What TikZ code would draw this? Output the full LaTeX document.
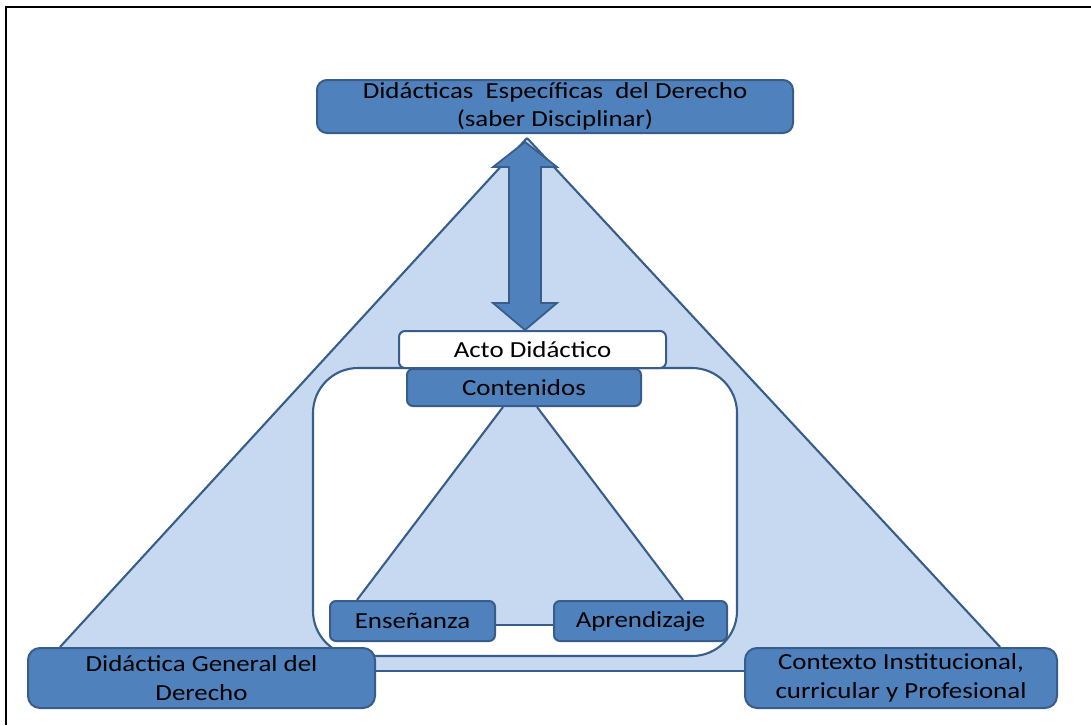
\documentclass[tikz,border=0pt]{standalone}
\usepackage{fontspec}
\setmainfont{Carlito}[FakeStretch=1.17]
\definecolor{boxblue}{HTML}{4F81BD}
\definecolor{bdr}{HTML}{385D8A}
\definecolor{lightfill}{HTML}{C6D9F0}
\pgfdeclarelayer{bgA}
\pgfdeclarelayer{bgB}
\pgfdeclarelayer{bgC}
\pgfsetlayers{bgA,bgB,bgC,main}
\tikzset{
  box/.style={draw=bdr, fill=boxblue, line width=2pt, rounded corners=8pt,
    align=center, inner sep=0pt, text=black, font=\fontsize{23}{28.5}\selectfont},
  whitebox/.style={box, fill=white},
  edge/.style={draw=bdr, line width=2.1pt},
}
\begin{document}
\begin{tikzpicture}[x=1pt,y=-1pt]
\useasboundingbox (0,0) rectangle (1091,725);
% frame
\draw[line width=2.6pt] (1091,7) -- (6,7) -- (6,725);

% boxes
\node[box, minimum width=476pt, minimum height=53pt, rounded corners=10pt] (top) at (555,106.5)
  {Didácticas~ Específicas~ del Derecho\\(saber Disciplinar)};
\node[box, minimum width=347pt, minimum height=60pt, rounded corners=12pt] (left) at (201.5,678)
  {Didáctica General del\\Derecho};
\node[box, minimum width=312pt, minimum height=60pt, rounded corners=12pt] (right) at (901,678)
  {Contexto Institucional,\\curricular y Profesional};
\node[whitebox, minimum width=267pt, minimum height=37pt, rounded corners=6pt] (acto) at (532.5,349.5) {Acto Didáctico};
\node[box, minimum width=234pt, minimum height=37pt, rounded corners=6pt] (cont) at (524,387.5) {Contenidos};
\node[box, minimum width=165pt, minimum height=40pt, rounded corners=6pt] (ens) at (412.5,621) {Enseñanza};
\node[box, minimum width=173pt, minimum height=40pt, rounded corners=6pt] (apr) at (640.5,621) {Aprendizaje};

\coordinate (apex) at ([xshift=-28pt,yshift=-4pt]top.south);

% big triangle fill
\begin{pgfonlayer}{bgA}
  \fill[lightfill] (apex) -- (38,671) -- (1022,671) -- cycle;
\end{pgfonlayer}
% inner frame
\begin{pgfonlayer}{bgB}
  \draw[edge, fill=white, rounded corners=45pt] (313,368) rectangle (737,656);
\end{pgfonlayer}
% inner triangle fill
\begin{pgfonlayer}{bgC}
  \fill[lightfill] ([xshift=-21pt]cont.south) -- ([xshift=13pt]cont.south) -- (700,625) -- (340,625) -- cycle;
\end{pgfonlayer}

% big triangle edges
\draw[edge] (apex) -- ([xshift=-141.5pt]left.north);
\draw[edge] (apex) -- ([xshift=99pt]right.north);
\draw[edge] ([yshift=7pt]left.east) -- ([yshift=7pt]right.west);

% inner triangle edges
\draw[edge] ([xshift=-21pt]cont.south) -- ([xshift=-55.5pt]ens.north);
\draw[edge] ([xshift=13pt]cont.south) -- ([xshift=42.5pt]apr.north);
\draw[edge] ([yshift=-4pt]ens.east) -- ([yshift=-4pt]apr.west);

% double arrow
\filldraw[fill=boxblue, draw=bdr, line width=1.8pt, line join=miter]
  (525,142) -- (557,167) -- (541,167) -- (541,303) -- (557,303) -- (525,330)
  -- (493,303) -- (509,303) -- (509,167) -- (493,167) -- cycle;
\end{tikzpicture}
\end{document}
